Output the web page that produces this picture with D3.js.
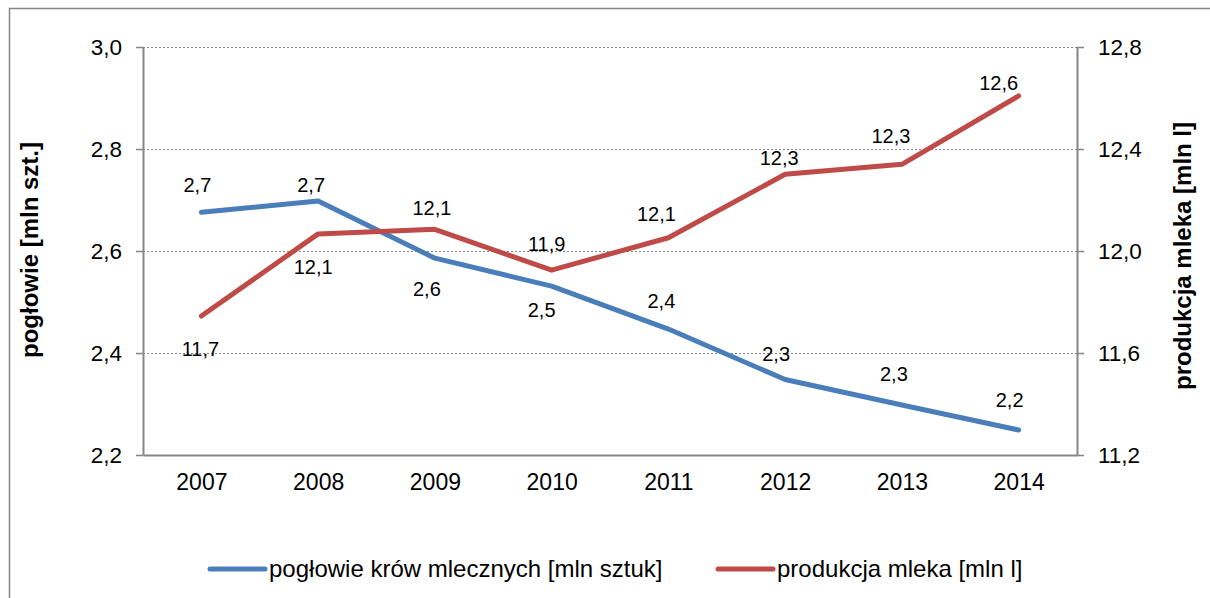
<!DOCTYPE html>
<html>
<head>
<meta charset="utf-8">
<script src="https://cdn.jsdelivr.net/npm/d3@7"></script>
<style>
  body { margin: 0; background: #fff; }
  svg { display: block; font-family: "Liberation Sans", Arial, sans-serif; }
</style>
</head>
<body>
<script>
const width = 1210;
const height = 598;

// data
const years = ["2007", "2008", "2009", "2010", "2011", "2012", "2013", "2014"];
const herdValues = [2.676, 2.698, 2.586, 2.531, 2.447, 2.348, 2.298, 2.249];
const milkValues = [11.745, 12.067, 12.085, 11.925, 12.052, 12.301, 12.34, 12.608];
const leftTicks = [2.2, 2.4, 2.6, 2.8, 3.0];
const rightTicks = [11.2, 11.6, 12.0, 12.4, 12.8];
const seriesNames = ["pogłowie krów mlecznych [mln sztuk]", "produkcja mleka [mln l]"];

// label nudges (Excel placed them by hand)
const herdLabelDx = [-4, -7, -8, -10, -7, -9, -8, -9];
const herdLabelDy = [-20, -9, 38, 31, -21, -19, -24, -23];
const milkLabelDx = [-1, -5, -3, -5, -12, -6, -11, -20];
const milkLabelDy = [40, 40, -14, -19, -17, -9, -21, -6];

const blue = "#4a7ebb";
const red = "#be4b48";
const grey = "#868686";

const fmt = d => d3.format(".1f")(d).replace(".", ",");

const svg = d3.select("body")
    .append("svg")
    .attr("width", width)
    .attr("height", height);

svg.append("rect")
    .attr("width", width)
    .attr("height", height)
    .attr("fill", "#fff");

// outer chart frame (cut off at right and bottom)
svg.append("path")
    .attr("d", "M9.5," + height + "V8.5H" + width)
    .attr("fill", "none")
    .attr("stroke", grey)
    .attr("stroke-width", 1.5);

let x = d3.scalePoint()
    .domain(years)
    .range([143, 1077])
    .padding(0.5);

let yLeft = d3.scaleLinear()
    .domain([2.2, 3.0])
    .range([455, 47]);

let yRight = d3.scaleLinear()
    .domain([11.2, 12.8])
    .range([455, 47]);

// dotted gridlines
svg.append("g")
    .selectAll("line")
    .data(leftTicks.slice(1))
    .enter()
    .append("line")
    .attr("x1", 143)
    .attr("x2", 1077)
    .attr("y1", d => Math.round(yLeft(d)) + 0.5)
    .attr("y2", d => Math.round(yLeft(d)) + 0.5)
    .attr("stroke", grey)
    .attr("stroke-width", 1)
    .attr("stroke-dasharray", "2,2");

function styleAxis(g, size) {
    g.select(".domain").attr("stroke", grey).attr("stroke-width", 2);
    g.selectAll(".tick line").attr("stroke", grey).attr("stroke-width", 1.5);
    g.selectAll(".tick text")
        .attr("fill", "#000")
        .style("font-size", size + "px");
}

svg.append("g")
    .attr("transform", "translate(143,0)")
    .call(d3.axisLeft(yLeft).tickValues(leftTicks).tickFormat(fmt)
        .tickSize(7).tickSizeOuter(0).tickPadding(14))
    .call(g => styleAxis(g, 22.5));

svg.append("g")
    .attr("transform", "translate(1077,0)")
    .call(d3.axisRight(yRight).tickValues(rightTicks).tickFormat(fmt)
        .tickSize(7).tickSizeOuter(0).tickPadding(14))
    .call(g => styleAxis(g, 22.5));

svg.append("g")
    .attr("transform", "translate(0,455)")
    .call(d3.axisBottom(x).tickSize(0).tickSizeOuter(0).tickPadding(19))
    .call(g => styleAxis(g, 23));

// axis titles
svg.append("text")
    .attr("transform", "translate(38,250) rotate(-90)")
    .attr("text-anchor", "middle")
    .style("font-size", "24px")
    .style("font-weight", "bold")
    .text("pogłowie [mln szt.]");

svg.append("text")
    .attr("transform", "translate(1191,256) rotate(-90)")
    .attr("text-anchor", "middle")
    .style("font-size", "24px")
    .style("font-weight", "bold")
    .text("produkcja mleka [mln l]");

// lines
function drawSeries(values, yScale, color, dxs, dys) {
    let line = d3.line()
        .x((d, i) => x(years[i]))
        .y(d => yScale(d));

    svg.append("path")
        .datum(values)
        .attr("d", line)
        .attr("fill", "none")
        .attr("stroke", color)
        .attr("stroke-width", 5)
        .attr("stroke-linejoin", "round")
        .attr("stroke-linecap", "round");

    svg.append("g")
        .selectAll("text")
        .data(values)
        .enter()
        .append("text")
        .attr("x", (d, i) => x(years[i]) + dxs[i])
        .attr("y", (d, i) => yScale(d) + dys[i])
        .attr("text-anchor", "middle")
        .style("font-size", "20px")
        .text(fmt);
}

drawSeries(herdValues, yLeft, blue, herdLabelDx, herdLabelDy);
drawSeries(milkValues, yRight, red, milkLabelDx, milkLabelDy);

// legend
const legendItems = [
    { name: seriesNames[0], color: blue, x: 210 },
    { name: seriesNames[1], color: red, x: 718 }
];

let legend = svg.append("g")
    .selectAll("g")
    .data(legendItems)
    .enter()
    .append("g")
    .attr("transform", d => "translate(" + d.x + ",569)");

legend.append("line")
    .attr("x1", 0)
    .attr("x2", 55)
    .attr("stroke", d => d.color)
    .attr("stroke-width", 5)
    .attr("stroke-linecap", "round");

legend.append("text")
    .attr("x", 59)
    .attr("y", 8)
    .style("font-size", "24px")
    .text(d => d.name);
</script>
</body>
</html>
